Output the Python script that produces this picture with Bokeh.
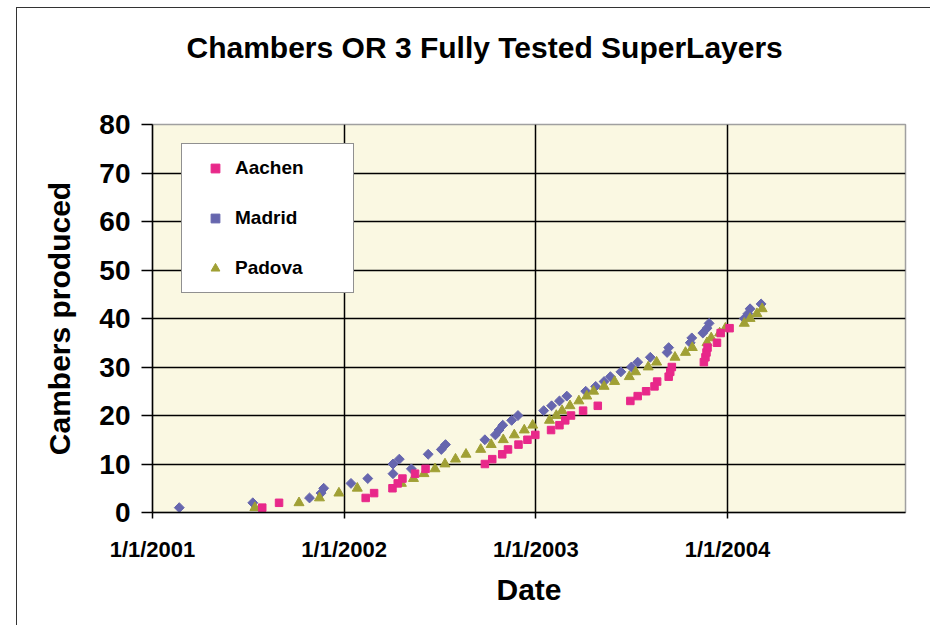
import math
import pandas as pd
from bokeh.plotting import figure
from bokeh.models import (FixedTicker, DatetimeTickFormatter, Legend, LegendItem,
                          Title, Range1d, ColumnDataSource)
from bokeh.embed import file_html
from bokeh.resources import INLINE

title_text = "Chambers OR 3 Fully Tested SuperLayers"
x_label = "Date"
y_label = "Cambers produced"
x_tick_dates = ["2001-01-01", "2002-01-01", "2003-01-01", "2004-01-01"]
x_start, x_end = "2001-01-01", "2004-12-05"
y_ticks = [0, 10, 20, 30, 40, 50, 60, 70, 80]

aachen_dates = ["2001-07-29", "2001-08-30", "2002-02-11", "2002-02-27", "2002-04-03",
                "2002-04-13", "2002-04-22", "2002-05-16", "2002-06-05", "2002-09-26",
                "2002-10-10", "2002-10-29", "2002-11-09", "2002-11-29", "2002-12-16",
                "2002-12-31", "2003-01-30", "2003-02-15", "2003-02-26", "2003-03-09",
                "2003-04-01", "2003-04-29", "2003-06-30", "2003-07-14", "2003-07-30",
                "2003-08-15", "2003-08-20", "2003-09-11", "2003-09-14", "2003-09-17",
                "2003-11-17", "2003-11-20", "2003-11-22", "2003-11-24", "2003-12-12",
                "2003-12-19", "2004-01-05"]
aachen_values = [1, 2, 3, 4, 5, 6, 7, 8, 9, 10, 11, 12, 13, 14, 15, 16, 17, 18, 19, 20,
                 21, 22, 23, 24, 25, 26, 27, 28, 29, 30, 31, 32, 33, 34, 35, 37, 38]

madrid_dates = ["2001-02-21", "2001-07-11", "2001-10-27", "2001-11-18", "2001-11-23",
                "2002-01-14", "2002-02-15", "2002-04-04", "2002-04-04", "2002-04-16",
                "2002-05-09", "2002-06-10", "2002-07-05", "2002-07-13", "2002-09-26",
                "2002-10-16", "2002-10-23", "2002-10-30", "2002-11-16", "2002-11-28",
                "2003-01-16", "2003-01-31", "2003-02-15", "2003-03-01", "2003-04-06",
                "2003-04-25", "2003-05-11", "2003-05-23", "2003-06-12", "2003-07-02",
                "2003-07-14", "2003-08-07", "2003-09-08", "2003-09-11", "2003-10-22",
                "2003-10-25", "2003-11-15", "2003-11-23", "2003-11-27", "2004-02-02",
                "2004-02-09", "2004-02-13", "2004-03-05"]
madrid_values = [1, 2, 3, 4, 5, 6, 7, 8, 10, 11, 9, 12, 13, 14, 15, 16, 17, 18, 19, 20,
                 21, 22, 23, 24, 25, 26, 27, 28, 29, 30, 31, 32, 33, 34, 35, 36, 37, 38,
                 39, 40, 41, 42, 43]

padova_dates = ["2001-07-15", "2001-10-07", "2001-11-15", "2001-12-22", "2002-01-26",
                "2002-04-20", "2002-05-13", "2002-06-02", "2002-06-23", "2002-07-12",
                "2002-08-01", "2002-08-21", "2002-09-18", "2002-10-08", "2002-10-31",
                "2002-11-21", "2002-12-10", "2002-12-26", "2003-01-27", "2003-02-09",
                "2003-02-20", "2003-03-07", "2003-03-24", "2003-04-08", "2003-04-21",
                "2003-05-11", "2003-05-31", "2003-06-28", "2003-07-10", "2003-08-03",
                "2003-08-19", "2003-09-23", "2003-10-13", "2003-10-26", "2003-11-23",
                "2003-12-01", "2003-12-17", "2003-12-28", "2004-02-02", "2004-02-13",
                "2004-02-26", "2004-03-07"]
padova_values = [1, 2, 3, 4, 5, 6, 7, 8, 9, 10, 11, 12, 13, 14, 15, 16, 17, 18, 19, 20,
                 21, 22, 23, 24, 25, 26, 27, 28, 29, 30, 31, 32, 33, 34, 35, 36, 37, 38,
                 39, 40, 41, 42]

FONT = "Liberation Sans"


def ms(d):
    return pd.Timestamp(d).value / 1e6


p = figure(width=914, height=618, output_backend="svg", toolbar_location=None,
           x_axis_type="datetime",
           x_range=Range1d(ms(x_start), ms(x_end)), y_range=Range1d(0, 80),
           min_border_left=135, min_border_right=26, min_border_top=116,
           min_border_bottom=114,
           background_fill_color="#FAF8E2", border_fill_color="white",
           outline_line_color="#A0A0A0", outline_line_width=1.5)
p.styles = {"border-left": "1px solid #333333", "border-top": "1px solid #333333",
            "margin-left": "16px", "margin-top": "7px"}

src_a = ColumnDataSource(dict(x=pd.to_datetime(aachen_dates), y=aachen_values))
src_m = ColumnDataSource(dict(x=pd.to_datetime(madrid_dates), y=madrid_values))
src_p = ColumnDataSource(dict(x=pd.to_datetime(padova_dates), y=padova_values))

r_m = p.scatter("x", "y", source=src_m, marker="square", angle=math.pi / 4, size=7,
                fill_color="#6666AE", line_color="#6666AE")
r_p = p.scatter("x", "y", source=src_p, marker="triangle", size=10,
                fill_color="#A0A035", line_color="#A0A035")
r_a = p.scatter("x", "y", source=src_a, marker="square", size=7.5,
                fill_color="#E8288A", line_color="#E8288A")

xt = FixedTicker(ticks=[ms(d) for d in x_tick_dates])
yt = FixedTicker(ticks=y_ticks)
p.xaxis.ticker = xt
p.yaxis.ticker = yt
p.xgrid.ticker = xt
p.ygrid.ticker = yt
p.xaxis.formatter = DatetimeTickFormatter(years="1/1/%Y", months="1/1/%Y", days="1/1/%Y")

for ax in (p.xaxis[0], p.yaxis[0]):
    ax.axis_line_color = "black"
    ax.axis_line_width = 1.5
    ax.major_tick_line_color = "black"
    ax.major_tick_line_width = 1.5
    ax.major_tick_in = 0
    ax.minor_tick_line_color = None
    ax.major_label_text_font = FONT
    ax.major_label_text_font_style = "bold"
    ax.major_label_text_color = "black"
    ax.axis_label_text_font = FONT
    ax.axis_label_text_font_style = "bold"
    ax.axis_label_text_color = "black"
    ax.axis_label_text_font_size = "30px"

p.xaxis.axis_label = x_label
p.yaxis.axis_label = y_label
p.xaxis.major_tick_out = 6
p.yaxis.major_tick_out = 11
p.xaxis.major_label_text_font_size = "22px"
p.yaxis.major_label_text_font_size = "28px"
p.xaxis.major_label_standoff = 18
p.yaxis.major_label_standoff = 11
p.xaxis.axis_label_standoff = 8
p.yaxis.axis_label_standoff = 20

for g in (p.xgrid[0], p.ygrid[0]):
    g.grid_line_color = "black"
    g.grid_line_width = 1.5

legend = Legend(items=[LegendItem(label="Aachen", renderers=[r_a]),
                       LegendItem(label="Madrid", renderers=[r_m]),
                       LegendItem(label="Padova", renderers=[r_p])],
                location=(29, 219), padding=13, spacing=28, margin=0,
                label_height=22, glyph_height=22, glyph_width=40, label_standoff=0,
                label_width=105,
                label_text_font=FONT, label_text_font_style="bold",
                label_text_font_size="19px", label_text_color="black",
                background_fill_color="white", background_fill_alpha=1,
                border_line_color="#222222", border_line_width=1)
p.add_layout(legend)

# spacer between frame and title (closest to frame), then the title above it
p.add_layout(Title(text=" ", text_font_size="40px"), "above")
p.add_layout(Title(text=title_text, align="left", offset=34, text_font=FONT,
                   text_font_style="bold", text_font_size="30px",
                   text_color="black"), "above")

open("out.html", "w").write(file_html(p, INLINE))
